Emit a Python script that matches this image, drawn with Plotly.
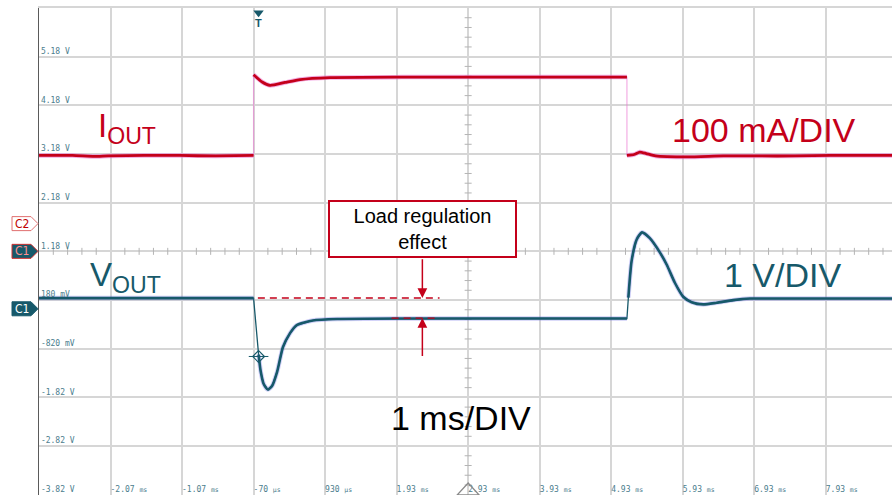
import plotly.graph_objects as go

# ---------------- axis ticks ----------------
x_tick_vals = [-2.07, -1.07, -0.07, 0.93, 1.93, 2.93, 3.93, 4.93, 5.93, 6.93, 7.93]
x_tick_text = ["-2.07 ms", "-1.07 ms", "-70 µs", "930 µs", "1.93 ms", "2.93 ms",
               "3.93 ms", "4.93 ms", "5.93 ms", "6.93 ms", "7.93 ms"]
y_tick_vals = [-3.82, -2.82, -1.82, -0.82, 0.18, 1.18, 2.18, 3.18, 4.18, 5.18]
y_tick_text = ["-3.82 V", "-2.82 V", "-1.82 V", "-820 mV", "180 mV", "1.18 V", "2.18 V",
               "3.18 V", "4.18 V", "5.18 V"]

# ---------------- IOUT (channel 2) ----------------
iout_pre_t = [-3.07, -2.6, -2.3, -2.1, -1.6, -1.1, -0.6, -0.07]
iout_pre_v = [3.15, 3.15, 3.13, 3.14, 3.15, 3.15, 3.14, 3.15]
iout_high_t = [-0.07, 0.05, 0.16, 0.37, 0.58, 1.0, 2.0, 3.0, 4.0, 5.15]
iout_high_v = [4.81, 4.66, 4.59, 4.65, 4.71, 4.75, 4.76, 4.76, 4.76, 4.76]
iout_post_t = [5.15, 5.25, 5.33, 5.42, 5.55, 6.0, 6.5, 7.0, 7.5, 8.0, 8.86]
iout_post_v = [3.15, 3.17, 3.22, 3.19, 3.14, 3.12, 3.14, 3.14, 3.14, 3.15, 3.15]

# ---------------- VOUT (channel 1) ----------------
vout_pre_t = [-3.07, -1.5, -0.07]
vout_pre_v = [0.22, 0.22, 0.22]
vout_dip_t = [0.0, 0.03, 0.07, 0.13, 0.19, 0.26, 0.34, 0.44, 0.53, 0.76, 1.1, 2.0, 3.0, 4.0, 5.15]
vout_dip_v = [-0.94, -1.29, -1.54, -1.66, -1.58, -1.29, -0.79, -0.50, -0.34, -0.24,
              -0.21, -0.20, -0.20, -0.20, -0.20]
vout_post_t = [5.17, 5.215, 5.285, 5.36, 5.47, 5.61, 5.705, 5.82, 5.937, 6.054, 6.217,
               6.404, 6.636, 6.87, 7.5, 8.86]
vout_post_v = [0.23, 0.98, 1.42, 1.57, 1.45, 1.16, 0.91, 0.535, 0.247, 0.136, 0.09,
               0.124, 0.178, 0.21, 0.21, 0.21]

# load regulation levels
reg_upper_t = [-0.01, 2.53]
reg_upper_v = [0.22, 0.22]
reg_lower_t = [1.86, 2.53]
reg_lower_v = [-0.19, -0.19]
reg_arrow_t = 2.29

# markers
trig_t = 0.0
trig_v = -0.98
center_t = 2.93
center_v = 1.18
chan_levels = [1.75, 1.18, 0.0]
chan_labels = ["C2", "C1", "C1"]

X_MIN, X_MAX = -3.07, 8.856
Y_MIN, Y_MAX = -3.826, 6.18

RED = "#c4001a"
TEAL = "#17596a"
PINK = "rgba(235,120,210,0.6)"
LAV = "rgba(120,120,235,0.35)"
GRID = "#d6d6d6"
CROSS = "#b4b4b4"
LABEL = "#4b7d8d"
PLOT_W = 892 - 39


def unit_small(s):
    num, unit = s.rsplit(" ", 1)
    return f"{num} <span style='font-size:6.5px'>{unit}</span>"


fig = go.Figure()

# center crosshair minor ticks
hx = [X_MIN + 0.2 * k for k in range(0, 60) if k % 5 != 0]
vy = [-3.82 + 0.2 * k for k in range(0, 50) if k % 5 != 0]
fig.add_trace(go.Scatter(x=hx, y=[center_v] * len(hx), mode="markers",
                         marker=dict(symbol="line-ns", size=5, line=dict(width=1, color=CROSS)),
                         hoverinfo="skip", showlegend=False))
fig.add_trace(go.Scatter(x=[center_t] * len(vy), y=vy, mode="markers",
                         marker=dict(symbol="line-ew", size=5, line=dict(width=1, color=CROSS)),
                         hoverinfo="skip", showlegend=False))

# IOUT full path (thin pink), then thick red segments
i_full_t = iout_pre_t + iout_high_t + iout_post_t
i_full_v = iout_pre_v + iout_high_v + iout_post_v
fig.add_trace(go.Scatter(x=i_full_t, y=i_full_v, mode="lines",
                         line=dict(color=PINK, width=1.2), hoverinfo="skip", showlegend=False))
i_seg_t = iout_pre_t + [None] + iout_high_t + [None] + iout_post_t
i_seg_v = iout_pre_v + [None] + iout_high_v + [None] + iout_post_v
fig.add_trace(go.Scatter(x=i_seg_t, y=i_seg_v, mode="lines", connectgaps=False,
                         line=dict(color=PINK, width=4.5, shape="spline", smoothing=0.5),
                         hoverinfo="skip", showlegend=False))
fig.add_trace(go.Scatter(x=i_seg_t, y=i_seg_v, mode="lines", connectgaps=False,
                         line=dict(color=RED, width=2.8, shape="spline", smoothing=0.5),
                         hoverinfo="skip", showlegend=False))

# dashed regulation line (under VOUT)
fig.add_trace(go.Scatter(x=reg_upper_t, y=reg_upper_v, mode="lines",
                         line=dict(color=RED, width=1.5, dash="7px,5px"),
                         hoverinfo="skip", showlegend=False))

# VOUT
v_full_t = vout_pre_t + vout_dip_t + vout_post_t
v_full_v = vout_pre_v + vout_dip_v + vout_post_v
fig.add_trace(go.Scatter(x=v_full_t, y=v_full_v, mode="lines",
                         line=dict(color=TEAL, width=1.3), hoverinfo="skip", showlegend=False))
v_seg_t = vout_pre_t + [None] + vout_dip_t + [None] + vout_post_t
v_seg_v = vout_pre_v + [None] + vout_dip_v + [None] + vout_post_v
fig.add_trace(go.Scatter(x=v_seg_t, y=v_seg_v, mode="lines", connectgaps=False,
                         line=dict(color=LAV, width=4.5, shape="spline", smoothing=0.6),
                         hoverinfo="skip", showlegend=False))
fig.add_trace(go.Scatter(x=v_seg_t, y=v_seg_v, mode="lines", connectgaps=False,
                         line=dict(color=TEAL, width=2.6, shape="spline", smoothing=0.6),
                         hoverinfo="skip", showlegend=False))

# lower dashed visible on top of trace
fig.add_trace(go.Scatter(x=reg_lower_t, y=reg_lower_v, mode="lines",
                         line=dict(color=RED, width=1.3, dash="7px,5px"),
                         hoverinfo="skip", showlegend=False))

# trigger diamond on the trace
fig.add_trace(go.Scatter(x=[trig_t], y=[trig_v], mode="markers",
                         marker=dict(symbol="line-ew", size=14, line=dict(width=1, color=TEAL)),
                         hoverinfo="skip", showlegend=False))
fig.add_trace(go.Scatter(x=[trig_t], y=[trig_v], mode="markers",
                         marker=dict(symbol="diamond-open", size=9, color=TEAL,
                                     line=dict(width=1.2, color=TEAL)),
                         hoverinfo="skip", showlegend=False))

# top trigger marker
fig.add_trace(go.Scatter(x=[trig_t], y=[6.08], mode="markers", cliponaxis=False,
                         marker=dict(symbol="triangle-down", size=9, color=TEAL),
                         hoverinfo="skip", showlegend=False))

# invisible trace on the label axis so it is drawn
fig.add_trace(go.Scatter(x=[X_MIN], y=[Y_MIN], xaxis="x2", mode="markers",
                         marker=dict(size=1, opacity=0), hoverinfo="skip", showlegend=False))

shapes = []
# bottom centre triangle
shapes.append(dict(type="path", xref="x", yref="y", xsizemode="pixel", ysizemode="pixel",
                   xanchor=center_t, yanchor=Y_MIN,
                   path="M -11,0 L 11,0 L 0,12 Z",
                   line=dict(color="#8a8a8a", width=1.3), fillcolor="rgba(0,0,0,0)"))

# channel markers at left edge (paper coordinates in the left margin)
chan_fill = ["white", TEAL, TEAL]
chan_line = ["#e07070", "#d03030", TEAL]
chan_text = ["#c00000", "#ff9090", "white"]
x0p = -27 / PLOT_W
xm = -8 / PLOT_W
x1p = -1 / PLOT_W
annotations = []
mk_font = "Liberation Sans Narrow, DejaVu Sans Condensed, Arial, sans-serif"
for lv, lab, fc, lc, tc in zip(chan_levels, chan_labels, chan_fill, chan_line, chan_text):
    shapes.append(dict(type="path", xref="paper", yref="y", ysizemode="pixel", yanchor=lv,
                       path=f"M {x0p},-7 L {xm},-7 L {x1p},0 L {xm},7 L {x0p},7 Z",
                       line=dict(color=lc, width=1), fillcolor=fc, layer="above"))
    annotations.append(dict(xref="paper", x=-17 / PLOT_W, xanchor="center", yref="y", y=lv,
                            yanchor="middle", text=lab, showarrow=False,
                            font=dict(family=mk_font, size=12, color=tc)))

annotations.append(dict(x=trig_t, y=5.87, text="<b>T</b>", showarrow=False,
                        font=dict(family="Arial, sans-serif", size=11, color=TEAL)))

big = "Liberation Sans, Arial, sans-serif"
annotations.append(dict(x=-2.27, y=3.72, xanchor="left", text="I<sub>OUT</sub>", showarrow=False,
                        font=dict(family=big, size=33, color=RED)))
annotations.append(dict(x=-2.38, y=0.66, xanchor="left", text="V<sub>OUT</sub>", showarrow=False,
                        font=dict(family=big, size=33, color=TEAL)))
annotations.append(dict(x=7.07, y=3.68, text="100 mA/DIV", showarrow=False,
                        font=dict(family=big, size=34, color=RED)))
annotations.append(dict(x=7.33, y=0.70, text="1 V/DIV", showarrow=False,
                        font=dict(family=big, size=34, color=TEAL)))
annotations.append(dict(x=2.83, y=-2.25, text="1 ms/DIV", showarrow=False,
                        font=dict(family=big, size=34, color="black")))

# load regulation box and arrows
annotations.append(dict(x=reg_arrow_t, y=1.64, text="Load regulation<br>effect", showarrow=False,
                        width=183, height=52, bgcolor="white", bordercolor=RED, borderwidth=2,
                        font=dict(family=big, size=20, color="black")))
annotations.append(dict(x=reg_arrow_t, y=reg_upper_v[0], ax=reg_arrow_t, ay=1.05, axref="x", ayref="y",
                        text="", showarrow=True, arrowhead=2, arrowsize=1.3, arrowwidth=1.5,
                        arrowcolor=RED))
annotations.append(dict(x=reg_arrow_t, y=reg_lower_v[0], ax=reg_arrow_t, ay=-1.0, axref="x", ayref="y",
                        text="", showarrow=True, arrowhead=2, arrowsize=1.3, arrowwidth=1.5,
                        arrowcolor=RED))

# center crosshair lines
shapes.append(dict(type="line", xref="paper", x0=0, x1=1, yref="y", y0=center_v, y1=center_v,
                   line=dict(color=CROSS, width=1), layer="below"))
shapes.append(dict(type="line", yref="paper", y0=0, y1=1, xref="x", x0=center_t, x1=center_t,
                   line=dict(color=CROSS, width=1), layer="below"))

tick_font = dict(family="DejaVu Sans Mono, monospace", size=8, color=LABEL)
fig.update_layout(
    width=892, height=495,
    margin=dict(l=39, r=0, t=8, b=0),
    paper_bgcolor="white", plot_bgcolor="white",
    showlegend=False,
    shapes=shapes, annotations=annotations,
    xaxis=dict(range=[X_MIN, X_MAX], tickmode="array", tickvals=x_tick_vals,
               showticklabels=False, ticks="", showgrid=True, gridcolor=GRID, gridwidth=1.5,
               zeroline=False, showline=True, mirror=True, linecolor=GRID, linewidth=1.5,
               fixedrange=True),
    xaxis2=dict(range=[X_MIN, X_MAX], overlaying="x", anchor="free", position=0.002, side="top",
                tickmode="array", tickvals=x_tick_vals,
                ticktext=[unit_small(s) for s in x_tick_text],
                ticklabelposition="outside right", ticks="", ticklen=0, showgrid=False,
                zeroline=False, showline=False, tickfont=tick_font, fixedrange=True),
    yaxis=dict(range=[Y_MIN, Y_MAX], tickmode="array", tickvals=y_tick_vals, ticktext=y_tick_text,
               ticklabelposition="inside top", ticks="", showgrid=True, gridcolor=GRID, gridwidth=1.5,
               zeroline=False, showline=True, linecolor="#5a5a5a", linewidth=1,
               tickfont=tick_font, fixedrange=True),
)

fig.write_html("out.html")
